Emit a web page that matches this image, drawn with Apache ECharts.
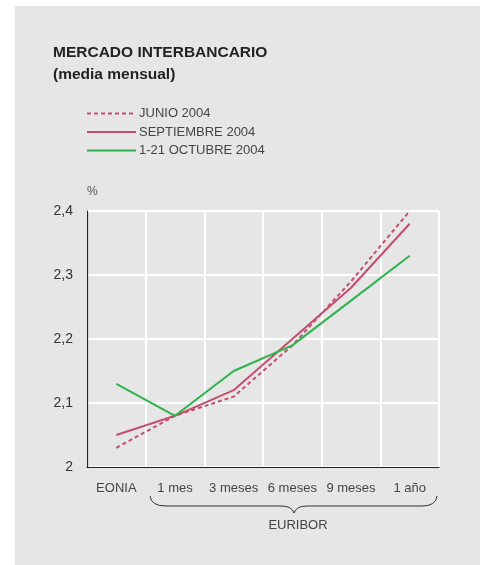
<!DOCTYPE html>
<html>
<head>
<meta charset="utf-8">
<script src="https://cdn.jsdelivr.net/npm/echarts@6/dist/echarts.min.js"></script>
<style>
  html, body { margin: 0; padding: 0; background: #fff; }
  #chart { width: 480px; height: 565px; }
</style>
</head>
<body>
<div id="chart"></div>
<script>
// plazos del mercado interbancario
const categories = ['EONIA', '1 mes', '3 meses', '6 meses', '9 meses', '1 año'];
const yTicks = [2, 2.1, 2.2, 2.3, 2.4];

// media mensual, %
const junio2004 = [2.03, 2.08, 2.11, 2.19, 2.29, 2.40];
const septiembre2004 = [2.05, 2.08, 2.12, 2.20, 2.28, 2.38];
const octubre2004 = [2.13, 2.08, 2.15, 2.19, 2.26, 2.33];

const pink = '#c24f6e';
const green = '#2db34b';
const font = 'Liberation Sans, Arial, sans-serif';

const chart = echarts.init(document.getElementById('chart'));

// trozos de la llave bajo los plazos EURIBOR
const braceStyle = { stroke: '#333', lineWidth: 1, fill: null };
function curve(x1, y1, cx, cy, x2, y2) {
  return {
    type: 'bezierCurve', silent: true,
    shape: { x1, y1, cpx1: cx, cpy1: cy, x2, y2 },
    style: braceStyle
  };
}
function hline(x1, x2, y) {
  return { type: 'line', silent: true, shape: { x1, y1: y, x2, y2: y }, style: braceStyle };
}

chart.setOption({
  animation: false,
  textStyle: { fontFamily: font },
  graphic: [
    {
      type: 'rect', z: -10, silent: true,
      shape: { x: 15, y: 6, width: 465, height: 559 },
      style: { fill: '#e6e6e6' }
    },
    {
      type: 'text', x: 53, y: 42,
      style: {
        text: 'MERCADO INTERBANCARIO\n(media mensual)',
        font: 'bold 15.5px ' + font, fill: '#222', lineHeight: 21.5
      }
    },
    curve(150, 496, 151, 506, 166, 506),
    hline(166, 281, 506),
    curve(281, 506, 292, 506, 294, 513),
    curve(294, 513, 296, 506, 307, 506),
    hline(307, 422, 506),
    curve(422, 506, 436, 506, 437, 496),
    {
      type: 'text', x: 298, y: 525,
      style: {
        text: 'EURIBOR', font: '13px ' + font, fill: '#444',
        align: 'center', verticalAlign: 'middle'
      }
    }
  ],
  legend: {
    orient: 'vertical',
    left: 81, top: 102,
    itemWidth: 49, itemHeight: 12, itemGap: 5.5,
    itemStyle: { opacity: 0 },
    textStyle: { fontSize: 13, color: '#444', padding: [0, 0, 0, -2] },
    data: ['JUNIO 2004', 'SEPTIEMBRE 2004', '1-21 OCTUBRE 2004']
  },
  grid: { left: 87, right: 41, top: 211, bottom: 98 },
  xAxis: {
    type: 'category',
    data: categories,
    boundaryGap: true,
    axisLine: { lineStyle: { color: '#222', width: 1.2 } },
    axisTick: { show: false },
    axisLabel: { color: '#444', fontSize: 13, margin: 15, interval: 0 },
    splitLine: { show: true, interval: 0, lineStyle: { color: '#fff', width: 2 } }
  },
  yAxis: {
    type: 'value',
    min: yTicks[0], max: yTicks[yTicks.length - 1], interval: 0.1,
    name: '%',
    nameGap: 19,
    nameTextStyle: { align: 'left', verticalAlign: 'middle', color: '#555', fontSize: 12 },
    axisLine: { show: true, lineStyle: { color: '#222', width: 1.2 } },
    axisTick: { show: false },
    axisLabel: {
      color: '#333', fontSize: 14, margin: 14,
      formatter: v => String(+v.toFixed(1)).replace('.', ',')
    },
    splitLine: { lineStyle: { color: '#fff', width: 2 } }
  },
  series: [
    {
      name: 'JUNIO 2004', type: 'line', data: junio2004,
      symbol: 'none', z: 3,
      lineStyle: { color: pink, width: 2, type: [4, 3] },
      itemStyle: { color: pink }
    },
    {
      name: 'SEPTIEMBRE 2004', type: 'line', data: septiembre2004,
      symbol: 'none', z: 4,
      lineStyle: { color: pink, width: 2 },
      itemStyle: { color: pink }
    },
    {
      name: '1-21 OCTUBRE 2004', type: 'line', data: octubre2004,
      symbol: 'none', z: 5,
      lineStyle: { color: green, width: 2 },
      itemStyle: { color: green }
    }
  ]
});
</script>
</body>
</html>
